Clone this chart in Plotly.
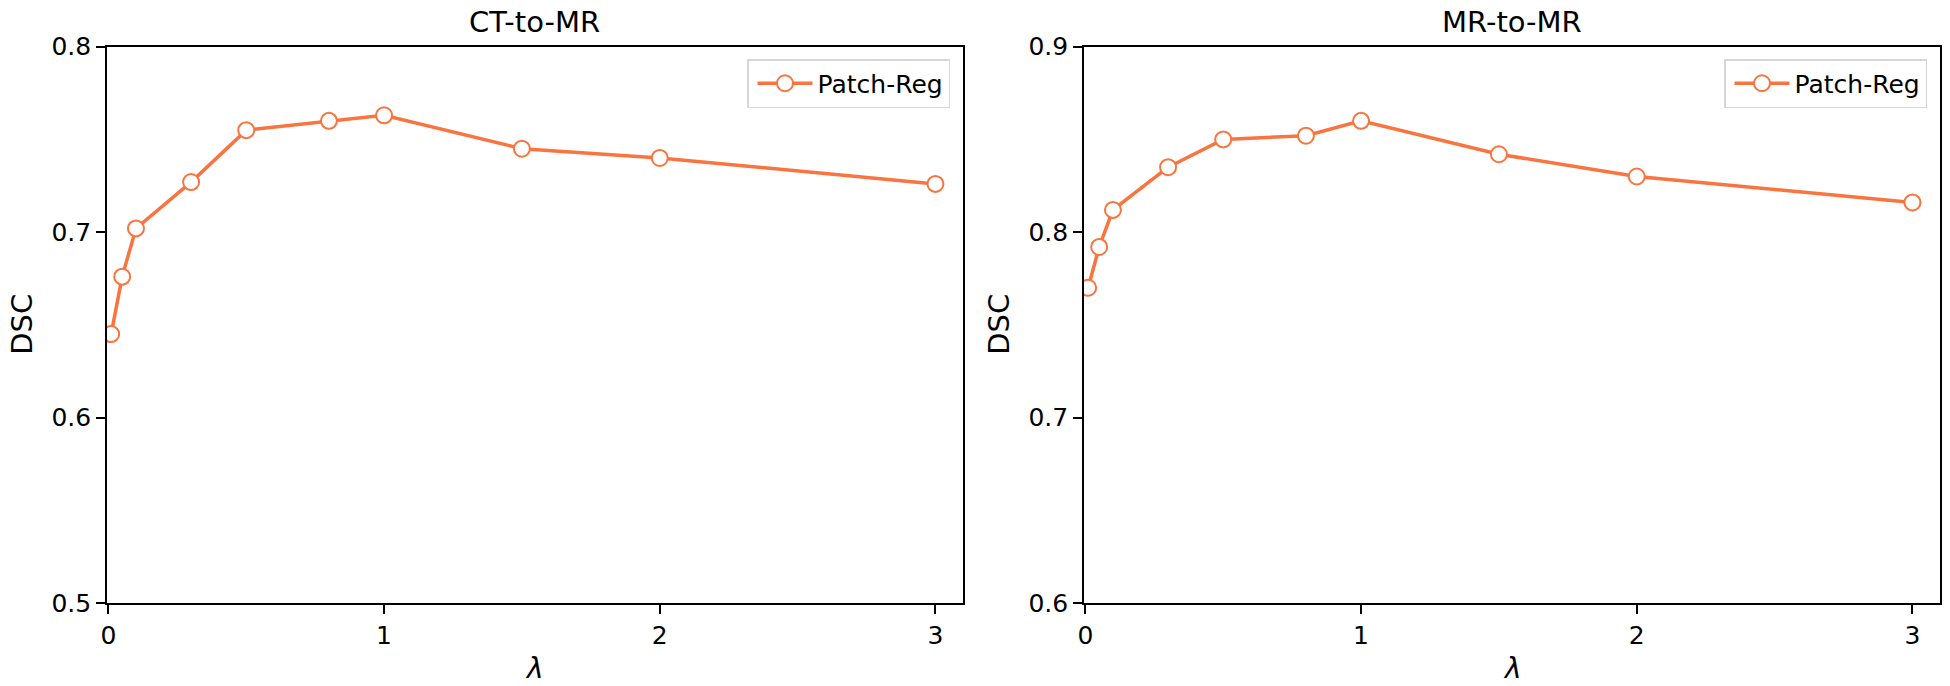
import plotly.graph_objects as go

lam = [0.01, 0.05, 0.1, 0.3, 0.5, 0.8, 1.0, 1.5, 2.0, 3.0]
ct_to_mr = [0.645, 0.676, 0.702, 0.727, 0.755, 0.760, 0.763, 0.745, 0.740, 0.726]
mr_to_mr = [0.770, 0.792, 0.812, 0.835, 0.850, 0.852, 0.860, 0.842, 0.830, 0.816]
titles = ["CT-to-MR", "MR-to-MR"]
series_name = "Patch-Reg"
y_ticks_left = [0.5, 0.6, 0.7, 0.8]
y_ticks_right = [0.6, 0.7, 0.8, 0.9]
x_ticks = [0, 1, 2, 3]

W, H = 1950, 686
COLOR = "#F9743F"
FONT = "DejaVu Sans"

fig = go.Figure()
marker = dict(symbol="circle", size=16, color="white", line=dict(color=COLOR, width=2))
fig.add_trace(go.Scatter(x=lam, y=ct_to_mr, mode="lines+markers", name=series_name,
                         line=dict(color=COLOR, width=3.5), marker=marker,
                         xaxis="x", yaxis="y", legend="legend"))
fig.add_trace(go.Scatter(x=lam, y=mr_to_mr, mode="lines+markers", name=series_name,
                         line=dict(color=COLOR, width=3.5), marker=marker,
                         xaxis="x2", yaxis="y2", legend="legend2"))

ydom = [(H - 603) / H, (H - 46.7) / H]
xd1 = [107 / W, 963 / W]
xd2 = [1084 / W, 1940 / W]

axis_common = dict(showline=True, linecolor="black", linewidth=1.6, mirror=True,
                   ticks="outside", ticklen=9, tickwidth=1.6, tickcolor="black",
                   showgrid=False, zeroline=False, automargin=False,
                   tickfont=dict(family=FONT, size=25, color="black"))

legend_common = dict(xanchor="right", yanchor="top",
                     bgcolor="rgba(255,255,255,0.8)", bordercolor="#d6d6d6", borderwidth=1.5,
                     itemwidth=55, indentation=4,
                     font=dict(family=FONT, size=25, color="black"))

fig.update_layout(
    width=W, height=H, autosize=False,
    margin=dict(l=0, r=0, t=0, b=0, pad=0),
    paper_bgcolor="white", plot_bgcolor="white",
    font=dict(family=FONT, color="black"),
    xaxis=dict(domain=xd1, range=[-0.005, 3.1], tickvals=x_ticks, anchor="y", **axis_common),
    yaxis=dict(domain=ydom, range=[0.5, 0.8], tickvals=y_ticks_left, tickformat=".1f",
               anchor="x", **axis_common),
    xaxis2=dict(domain=xd2, range=[-0.005, 3.1], tickvals=x_ticks, anchor="y2", **axis_common),
    yaxis2=dict(domain=ydom, range=[0.6, 0.9], tickvals=y_ticks_right, tickformat=".1f",
                anchor="x2", **axis_common),
    legend=dict(x=950 / W, y=(H - 59) / H, **legend_common),
    legend2=dict(x=1927 / W, y=(H - 59) / H, **legend_common),
    showlegend=True,
)

ann = []
for i, t in enumerate(titles):
    xd = xd1 if i == 0 else xd2
    cx = (xd[0] + xd[1]) / 2
    ann.append(dict(text=t, x=cx, y=(H - 22) / H, xref="paper", yref="paper",
                    showarrow=False, xanchor="center", yanchor="middle",
                    font=dict(family=FONT, size=29, color="black")))
    ann.append(dict(text="<i>λ</i>", x=cx, y=(H - 668) / H, xref="paper", yref="paper",
                    showarrow=False, xanchor="center", yanchor="middle",
                    font=dict(family=FONT, size=28, color="black")))
    ann.append(dict(text="DSC", x=(xd[0] * W - 85) / W, y=(ydom[0] + ydom[1]) / 2,
                    xref="paper", yref="paper", showarrow=False, textangle=-90,
                    xanchor="center", yanchor="middle",
                    font=dict(family=FONT, size=29, color="black")))
fig.update_layout(annotations=ann)

fig.write_html("out.html", config={"displayModeBar": False},
               post_script="document.body.style.margin='0';")
